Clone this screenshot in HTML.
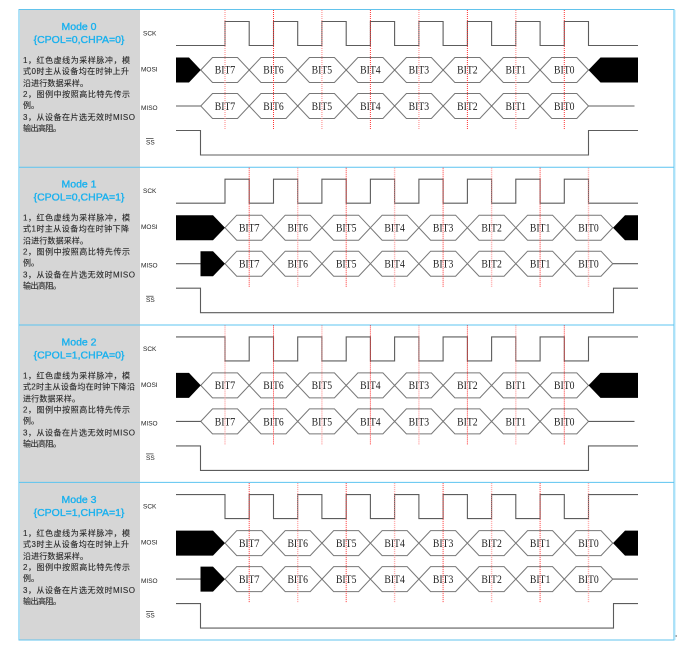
<!DOCTYPE html>
<html><head><meta charset="utf-8"><style>
html,body{margin:0;padding:0;background:#fff;width:684px;height:653px;overflow:hidden}
svg{display:block}
.t{font:10.5px "Liberation Sans",sans-serif;fill:#1ab1ee;text-anchor:middle;stroke:#1ab1ee;stroke-width:.35}
.p{font:8px "Liberation Sans","Noto Sans CJK SC",sans-serif;fill:#2a2a2a;stroke:#2a2a2a;stroke-width:.12}
.l{font:6.5px "Liberation Sans",sans-serif;fill:#222}
.b{font:12px "Liberation Serif",serif;fill:#222;text-anchor:middle}
.w{fill:none;stroke:#5c5c5c;stroke-width:1.1}
.h{fill:none;stroke:#777;stroke-width:1}
.r{stroke:#f33;stroke-width:1;stroke-dasharray:1 1}
.q{stroke:#f88;stroke-width:1.4;stroke-dasharray:1 1;opacity:.75}
</style></head><body>
<svg width="684" height="653" viewBox="0 0 684 653" xmlns="http://www.w3.org/2000/svg">
<defs>
<path id="hx" d="M200.77 0l11.73-12.5h25l11.73 12.5l-11.73 12.5h-25zm48.47 0l11.73-12.5h25l11.73 12.5l-11.73 12.5h-25zm48.47 0l11.73-12.5h25l11.73 12.5l-11.73 12.5h-25zm48.47 0l11.73-12.5h25l11.73 12.5l-11.73 12.5h-25zm48.47 0l11.73-12.5h25l11.73 12.5l-11.73 12.5h-25zm48.47 0l11.73-12.5h25l11.73 12.5l-11.73 12.5h-25zm48.47 0l11.73-12.5h25l11.73 12.5l-11.73 12.5h-25zm48.47 0l11.73-12.5h25l11.73 12.5l-11.73 12.5h-25z"/>
<path id="ck0" d="M176 45.5H225V21.5H249.2V45.5H273.5V21.5H297.7V45.5H321.9V21.5H346.2V45.5H370.4V21.5H394.6V45.5H418.9V21.5H443.1V45.5H467.4V21.5H491.6V45.5H515.8V21.5H540.1V45.5H564.3V21.5H588.5V45.5H638"/>
<path id="ck1" d="M176 21.5H225V45.5H249.2V21.5H273.5V45.5H297.7V21.5H321.9V45.5H346.2V21.5H370.4V45.5H394.6V21.5H418.9V45.5H443.1V21.5H467.4V45.5H491.6V21.5H515.8V45.5H540.1V21.5H564.3V45.5H588.5V21.5H638"/>
</defs>

<rect x="20" y="10" width="120" height="630" fill="#d6d6d6"/>
<rect x="19" y="9.5" width="655" height="630.5" fill="none" stroke="#62c3ec" stroke-width="1"/>
<rect x="674" y="10" width="1.4" height="630" fill="#a8e2fa"/>
<path d="M19 167.3H674M19 325H674M19 482.4H674" stroke="#5cc4f0" stroke-width="1" fill="none"/>
<rect x="675.5" y="635" width="1.5" height="2" fill="#aaa"/>

<!-- Mode 0 -->
<g>
<text class="t" x="79" y="30">Mode 0</text>
<text class="t" x="79" y="43">{CPOL=0,CHPA=0}</text>
<text class="p" x="23" y="63" textLength="107">1，红色虚线为采样脉冲，模</text>
<text class="p" x="23" y="74" textLength="106">式0时主从设备均在时钟上升</text>
<text class="p" x="23" y="86" textLength="65">沿进行数据采样。</text>
<text class="p" x="23" y="97" textLength="107">2，图例中按照高比特先传示</text>
<text class="p" x="23" y="108" textLength="16">例。</text>
<text class="p" x="23" y="120" textLength="112">3，从设备在片选无效时MISO</text>
<text class="p" x="23" y="131" textLength="38">输出高阻。</text>
<text class="l" x="143" y="35.5">SCK</text>
<text class="l" x="141" y="71.5">MOSI</text>
<text class="l" x="141" y="110">MISO</text>
<text class="l" x="146" y="144.5">SS</text>
<path d="M146 138.5h7.5" stroke="#333" stroke-width=".7"/>
<use href="#ck0" class="w"/>
<use href="#hx" class="h" y="70"/>
<use href="#hx" class="h" y="106"/>
<path d="M176 57.5H189L200.8 70L189 82.5H176zM588.5 70L600.5 57.5H638V82.5H600.5z" fill="#000"/>
<path class="w" d="M176 106H200.8M588.5 106H634.5M176 130.5H200.5V155H588.5V130.5H638"/>
<text class="b" x="225" y="73.7" textLength="20.5" lengthAdjust="spacingAndGlyphs">BIT7</text><text class="b" x="273.5" y="73.7" textLength="20.5" lengthAdjust="spacingAndGlyphs">BIT6</text><text class="b" x="321.9" y="73.7" textLength="20.5" lengthAdjust="spacingAndGlyphs">BIT5</text><text class="b" x="370.4" y="73.7" textLength="20.5" lengthAdjust="spacingAndGlyphs">BIT4</text><text class="b" x="418.9" y="73.7" textLength="20.5" lengthAdjust="spacingAndGlyphs">BIT3</text><text class="b" x="467.4" y="73.7" textLength="20.5" lengthAdjust="spacingAndGlyphs">BIT2</text><text class="b" x="515.8" y="73.7" textLength="20.5" lengthAdjust="spacingAndGlyphs">BIT1</text><text class="b" x="564.3" y="73.7" textLength="20.5" lengthAdjust="spacingAndGlyphs">BIT0</text>
<text class="b" x="225" y="110" textLength="20.5" lengthAdjust="spacingAndGlyphs">BIT7</text><text class="b" x="273.5" y="110" textLength="20.5" lengthAdjust="spacingAndGlyphs">BIT6</text><text class="b" x="321.9" y="110" textLength="20.5" lengthAdjust="spacingAndGlyphs">BIT5</text><text class="b" x="370.4" y="110" textLength="20.5" lengthAdjust="spacingAndGlyphs">BIT4</text><text class="b" x="418.9" y="110" textLength="20.5" lengthAdjust="spacingAndGlyphs">BIT3</text><text class="b" x="467.4" y="110" textLength="20.5" lengthAdjust="spacingAndGlyphs">BIT2</text><text class="b" x="515.8" y="110" textLength="20.5" lengthAdjust="spacingAndGlyphs">BIT1</text><text class="b" x="564.3" y="110" textLength="20.5" lengthAdjust="spacingAndGlyphs">BIT0</text>
<path class="r" d="M273.5 10V130M370.4 10V130M467.4 10V130M564.3 10V130"/>
<path class="q" d="M225 10V130M321.9 10V130M418.9 10V130M515.8 10V130"/>
</g>

<!-- Mode 1 -->
<g transform="translate(0,157.7)">
<text class="t" x="79" y="30">Mode 1</text>
<text class="t" x="79" y="43">{CPOL=0,CHPA=1}</text>
<text class="p" x="23" y="63" textLength="107">1，红色虚线为采样脉冲，模</text>
<text class="p" x="23" y="74" textLength="106">式1时主从设备均在时钟下降</text>
<text class="p" x="23" y="86" textLength="65">沿进行数据采样。</text>
<text class="p" x="23" y="97" textLength="107">2，图例中按照高比特先传示</text>
<text class="p" x="23" y="108" textLength="16">例。</text>
<text class="p" x="23" y="120" textLength="112">3，从设备在片选无效时MISO</text>
<text class="p" x="23" y="131" textLength="38">输出高阻。</text>
<text class="l" x="143" y="35.5">SCK</text>
<text class="l" x="141" y="71.5">MOSI</text>
<text class="l" x="141" y="110">MISO</text>
<text class="l" x="146" y="144.5">SS</text>
<path d="M146 138.5h7.5" stroke="#333" stroke-width=".7"/>
<use href="#ck0" class="w"/>
<use href="#hx" class="h" x="24.23" y="70"/>
<use href="#hx" class="h" x="24.23" y="106"/>
<path d="M176 57.5H213L225 70L213 82.5H176zM613 70L625 57.5H638V82.5H625zM200.5 93.5H213L225 106L213 118.5H200.5z" fill="#000"/>
<path class="w" d="M176 106H200.5M613 106H638M176 130.5H200.5V155H613.5V130.5H638"/>
<text class="b" x="249.2" y="73.7" textLength="20.5" lengthAdjust="spacingAndGlyphs">BIT7</text><text class="b" x="297.7" y="73.7" textLength="20.5" lengthAdjust="spacingAndGlyphs">BIT6</text><text class="b" x="346.2" y="73.7" textLength="20.5" lengthAdjust="spacingAndGlyphs">BIT5</text><text class="b" x="394.6" y="73.7" textLength="20.5" lengthAdjust="spacingAndGlyphs">BIT4</text><text class="b" x="443.1" y="73.7" textLength="20.5" lengthAdjust="spacingAndGlyphs">BIT3</text><text class="b" x="491.6" y="73.7" textLength="20.5" lengthAdjust="spacingAndGlyphs">BIT2</text><text class="b" x="540.1" y="73.7" textLength="20.5" lengthAdjust="spacingAndGlyphs">BIT1</text><text class="b" x="588.5" y="73.7" textLength="20.5" lengthAdjust="spacingAndGlyphs">BIT0</text>
<text class="b" x="249.2" y="110" textLength="20.5" lengthAdjust="spacingAndGlyphs">BIT7</text><text class="b" x="297.7" y="110" textLength="20.5" lengthAdjust="spacingAndGlyphs">BIT6</text><text class="b" x="346.2" y="110" textLength="20.5" lengthAdjust="spacingAndGlyphs">BIT5</text><text class="b" x="394.6" y="110" textLength="20.5" lengthAdjust="spacingAndGlyphs">BIT4</text><text class="b" x="443.1" y="110" textLength="20.5" lengthAdjust="spacingAndGlyphs">BIT3</text><text class="b" x="491.6" y="110" textLength="20.5" lengthAdjust="spacingAndGlyphs">BIT2</text><text class="b" x="540.1" y="110" textLength="20.5" lengthAdjust="spacingAndGlyphs">BIT1</text><text class="b" x="588.5" y="110" textLength="20.5" lengthAdjust="spacingAndGlyphs">BIT0</text>
<path class="r" d="M249.2 10V130M346.2 10V130M443.1 10V130M540.1 10V130"/>
<path class="q" d="M297.7 10V130M394.6 10V130M491.6 10V130M588.5 10V130"/>
</g>

<!-- Mode 2 -->
<g transform="translate(0,315.4)">
<text class="t" x="79" y="30">Mode 2</text>
<text class="t" x="79" y="43">{CPOL=1,CHPA=0}</text>
<text class="p" x="23" y="63" textLength="107">1，红色虚线为采样脉冲，模</text>
<text class="p" x="23" y="74" textLength="112">式2时主从设备均在时钟下降沿</text>
<text class="p" x="23" y="86" textLength="57">进行数据采样。</text>
<text class="p" x="23" y="97" textLength="107">2，图例中按照高比特先传示</text>
<text class="p" x="23" y="108" textLength="16">例。</text>
<text class="p" x="23" y="120" textLength="112">3，从设备在片选无效时MISO</text>
<text class="p" x="23" y="131" textLength="38">输出高阻。</text>
<text class="l" x="143" y="35.5">SCK</text>
<text class="l" x="141" y="71.5">MOSI</text>
<text class="l" x="141" y="110">MISO</text>
<text class="l" x="146" y="144.5">SS</text>
<path d="M146 138.5h7.5" stroke="#333" stroke-width=".7"/>
<use href="#ck1" class="w"/>
<use href="#hx" class="h" y="70"/>
<use href="#hx" class="h" y="106"/>
<path d="M176 57.5H189L200.8 70L189 82.5H176zM588.5 70L600.5 57.5H638V82.5H600.5z" fill="#000"/>
<path class="w" d="M176 106H200.8M588.5 106H634.5M176 130.5H200.5V155H588.5V130.5H638"/>
<text class="b" x="225" y="73.7" textLength="20.5" lengthAdjust="spacingAndGlyphs">BIT7</text><text class="b" x="273.5" y="73.7" textLength="20.5" lengthAdjust="spacingAndGlyphs">BIT6</text><text class="b" x="321.9" y="73.7" textLength="20.5" lengthAdjust="spacingAndGlyphs">BIT5</text><text class="b" x="370.4" y="73.7" textLength="20.5" lengthAdjust="spacingAndGlyphs">BIT4</text><text class="b" x="418.9" y="73.7" textLength="20.5" lengthAdjust="spacingAndGlyphs">BIT3</text><text class="b" x="467.4" y="73.7" textLength="20.5" lengthAdjust="spacingAndGlyphs">BIT2</text><text class="b" x="515.8" y="73.7" textLength="20.5" lengthAdjust="spacingAndGlyphs">BIT1</text><text class="b" x="564.3" y="73.7" textLength="20.5" lengthAdjust="spacingAndGlyphs">BIT0</text>
<text class="b" x="225" y="110" textLength="20.5" lengthAdjust="spacingAndGlyphs">BIT7</text><text class="b" x="273.5" y="110" textLength="20.5" lengthAdjust="spacingAndGlyphs">BIT6</text><text class="b" x="321.9" y="110" textLength="20.5" lengthAdjust="spacingAndGlyphs">BIT5</text><text class="b" x="370.4" y="110" textLength="20.5" lengthAdjust="spacingAndGlyphs">BIT4</text><text class="b" x="418.9" y="110" textLength="20.5" lengthAdjust="spacingAndGlyphs">BIT3</text><text class="b" x="467.4" y="110" textLength="20.5" lengthAdjust="spacingAndGlyphs">BIT2</text><text class="b" x="515.8" y="110" textLength="20.5" lengthAdjust="spacingAndGlyphs">BIT1</text><text class="b" x="564.3" y="110" textLength="20.5" lengthAdjust="spacingAndGlyphs">BIT0</text>
<path class="r" d="M273.5 10V130M370.4 10V130M467.4 10V130M564.3 10V130"/>
<path class="q" d="M225 10V130M321.9 10V130M418.9 10V130M515.8 10V130"/>
</g>

<!-- Mode 3 -->
<g transform="translate(0,473.1)">
<text class="t" x="79" y="30">Mode 3</text>
<text class="t" x="79" y="43">{CPOL=1,CHPA=1}</text>
<text class="p" x="23" y="63" textLength="107">1，红色虚线为采样脉冲，模</text>
<text class="p" x="23" y="74" textLength="106">式3时主从设备均在时钟上升</text>
<text class="p" x="23" y="86" textLength="65">沿进行数据采样。</text>
<text class="p" x="23" y="97" textLength="107">2，图例中按照高比特先传示</text>
<text class="p" x="23" y="108" textLength="16">例。</text>
<text class="p" x="23" y="120" textLength="112">3，从设备在片选无效时MISO</text>
<text class="p" x="23" y="131" textLength="38">输出高阻。</text>
<text class="l" x="143" y="35.5">SCK</text>
<text class="l" x="141" y="71.5">MOSI</text>
<text class="l" x="141" y="110">MISO</text>
<text class="l" x="146" y="144.5">SS</text>
<path d="M146 138.5h7.5" stroke="#333" stroke-width=".7"/>
<use href="#ck1" class="w"/>
<use href="#hx" class="h" x="24.23" y="70"/>
<use href="#hx" class="h" x="24.23" y="106"/>
<path d="M176 57.5H213L225 70L213 82.5H176zM613 70L625 57.5H638V82.5H625zM200.5 93.5H213L225 106L213 118.5H200.5z" fill="#000"/>
<path class="w" d="M176 106H200.5M613 106H638M176 130.5H200.5V155H613.5V130.5H638"/>
<text class="b" x="249.2" y="73.7" textLength="20.5" lengthAdjust="spacingAndGlyphs">BIT7</text><text class="b" x="297.7" y="73.7" textLength="20.5" lengthAdjust="spacingAndGlyphs">BIT6</text><text class="b" x="346.2" y="73.7" textLength="20.5" lengthAdjust="spacingAndGlyphs">BIT5</text><text class="b" x="394.6" y="73.7" textLength="20.5" lengthAdjust="spacingAndGlyphs">BIT4</text><text class="b" x="443.1" y="73.7" textLength="20.5" lengthAdjust="spacingAndGlyphs">BIT3</text><text class="b" x="491.6" y="73.7" textLength="20.5" lengthAdjust="spacingAndGlyphs">BIT2</text><text class="b" x="540.1" y="73.7" textLength="20.5" lengthAdjust="spacingAndGlyphs">BIT1</text><text class="b" x="588.5" y="73.7" textLength="20.5" lengthAdjust="spacingAndGlyphs">BIT0</text>
<text class="b" x="249.2" y="110" textLength="20.5" lengthAdjust="spacingAndGlyphs">BIT7</text><text class="b" x="297.7" y="110" textLength="20.5" lengthAdjust="spacingAndGlyphs">BIT6</text><text class="b" x="346.2" y="110" textLength="20.5" lengthAdjust="spacingAndGlyphs">BIT5</text><text class="b" x="394.6" y="110" textLength="20.5" lengthAdjust="spacingAndGlyphs">BIT4</text><text class="b" x="443.1" y="110" textLength="20.5" lengthAdjust="spacingAndGlyphs">BIT3</text><text class="b" x="491.6" y="110" textLength="20.5" lengthAdjust="spacingAndGlyphs">BIT2</text><text class="b" x="540.1" y="110" textLength="20.5" lengthAdjust="spacingAndGlyphs">BIT1</text><text class="b" x="588.5" y="110" textLength="20.5" lengthAdjust="spacingAndGlyphs">BIT0</text>
<path class="r" d="M249.2 10V130M346.2 10V130M443.1 10V130M540.1 10V130"/>
<path class="q" d="M297.7 10V130M394.6 10V130M491.6 10V130M588.5 10V130"/>
</g>
</svg>
</body></html>
